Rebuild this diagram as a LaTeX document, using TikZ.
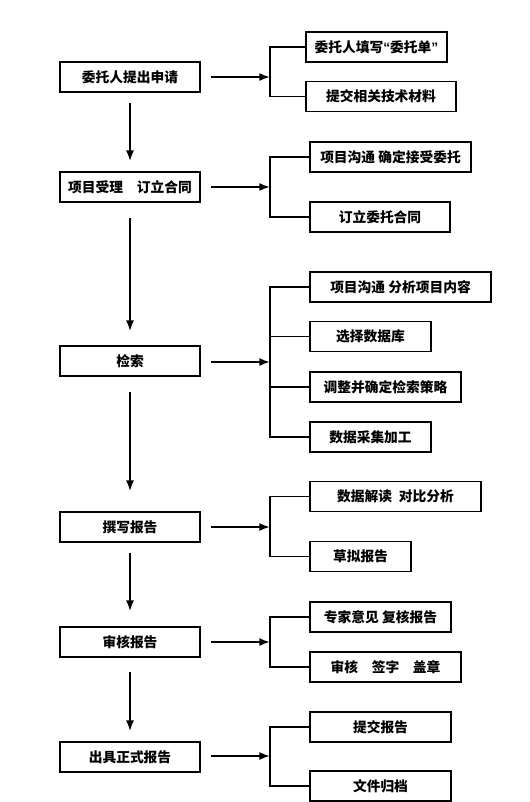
\documentclass[tikz,border=0pt]{standalone}
\usepackage{fontspec}
\setmainfont{Noto Sans CJK SC}
\newfontfamily\quotefont{Liberation Sans}
\usetikzlibrary{arrows.meta}
\begin{document}
\begin{tikzpicture}[x=0.75pt,y=-0.75pt,
    box/.style={draw,line width=1.3pt,minimum height=22.5pt,inner sep=0pt,
      font=\fontsize{10.3}{12}\selectfont\bfseries},
    line/.style={line width=1.3pt},
    tip/.style={line,-{Latex[length=8pt,width=6pt]}}]
  \useasboundingbox (0,0) rectangle (530,802);
  \draw
    (130,77) node[box,minimum width=105pt] (m1){委托人提出申请}
    (130,187) node[box,minimum width=105pt] (m2){项目受理\quad 订立合同}
    (130,361) node[box,minimum width=105pt] (m3){检索}
    (130,527) node[box,minimum width=105pt] (m4){撰写报告}
    (130,642) node[box,minimum width=105pt] (m5){审核报告}
    (130,757) node[box,minimum width=105pt] (m6){出具正式报告};
  \draw
    (376.5,47) node[box,minimum width=105.75pt] (r1a){委托人填写{\quotefont “}委托单{\quotefont ”}}
    (381,96.5) node[box,minimum width=112.5pt] (r1b){提交相关技术材料}
    (390.5,157) node[box,minimum width=120.75pt] (r2a){项目沟通 确定接受委托}
    (380,217) node[box,minimum width=105pt] (r2b){订立委托合同}
    (400.5,287) node[box,minimum width=135.75pt] (r3a){项目沟通 分析项目内容}
    (370.5,336.5) node[box,minimum width=90.75pt] (r3b){选择数据库}
    (385.5,387) node[box,minimum width=113.25pt] (r3c){调整并确定检索策略}
    (370.5,437) node[box,minimum width=90.75pt] (r3d){数据采集加工}
    (395.5,496.5) node[box,minimum width=128.25pt] (r4a){数据解读\enspace 对比分析}
    (360.5,556.5) node[box,minimum width=75.75pt] (r4b){草拟报告}
    (380.5,617) node[box,minimum width=105.75pt] (r5a){专家意见 复核报告}
    (385.5,667) node[box,minimum width=113.25pt] (r5b){审核\quad 签字\quad 盖章}
    (380.5,727) node[box,minimum width=105.75pt] (r6a){提交报告}
    (380.5,786) node[box,minimum width=105.75pt] (r6b){文件归档};
  \coordinate (j1) at (270,77);
  \coordinate (j2) at (270,187);
  \coordinate (j3) at (270,362);
  \coordinate (j4) at (270,527);
  \coordinate (j5) at (270,642);
  \coordinate (j6) at (270,756);
  \begin{scope}[tip]
    \draw[shorten <=7.5pt,shorten >=7.5pt] (m1) to (m2);
    \draw[shorten <=11.25pt,shorten >=10.5pt] (m2) to (m3);
    \draw[shorten <=11.25pt,shorten >=15pt] (m3) to (m4);
    \draw[shorten <=7.5pt,shorten >=11.25pt] (m4) to (m5);
    \draw[shorten <=10.5pt,shorten >=7.5pt] (m5) to (m6);
    \draw[shorten <=7.5pt] (m1) to (j1);
    \draw[shorten <=7.5pt] (m2) to (j2);
    \draw[shorten <=7.5pt] (m3.east |- j3) to (j3);
    \draw[shorten <=7.5pt] (m4) to (j4);
    \draw[shorten <=7.5pt] (m5) to (j5);
    \draw[shorten <=7.5pt] (m6.east |- j6) to (j6);
  \end{scope}
  \begin{scope}[line]
    \draw (r1a.west) -| (j1) |- (r1b.west);
    \draw (r2a.west) -| (j2) |- (r2b.west);
    \draw (r3a.west) -| (j3) |- (r3d.west);
    \draw (r3b.west) to (r3b.west -| j3);
    \draw (r3c.west) to (r3c.west -| j3);
    \draw (r4a.west) -| (j4) |- (r4b.west);
    \draw (r5a.west) -| (j5) |- (r5b.west);
    \draw (r6a.west) -| (j6) |- (r6b.west);
  \end{scope}
\end{tikzpicture}
\end{document}
